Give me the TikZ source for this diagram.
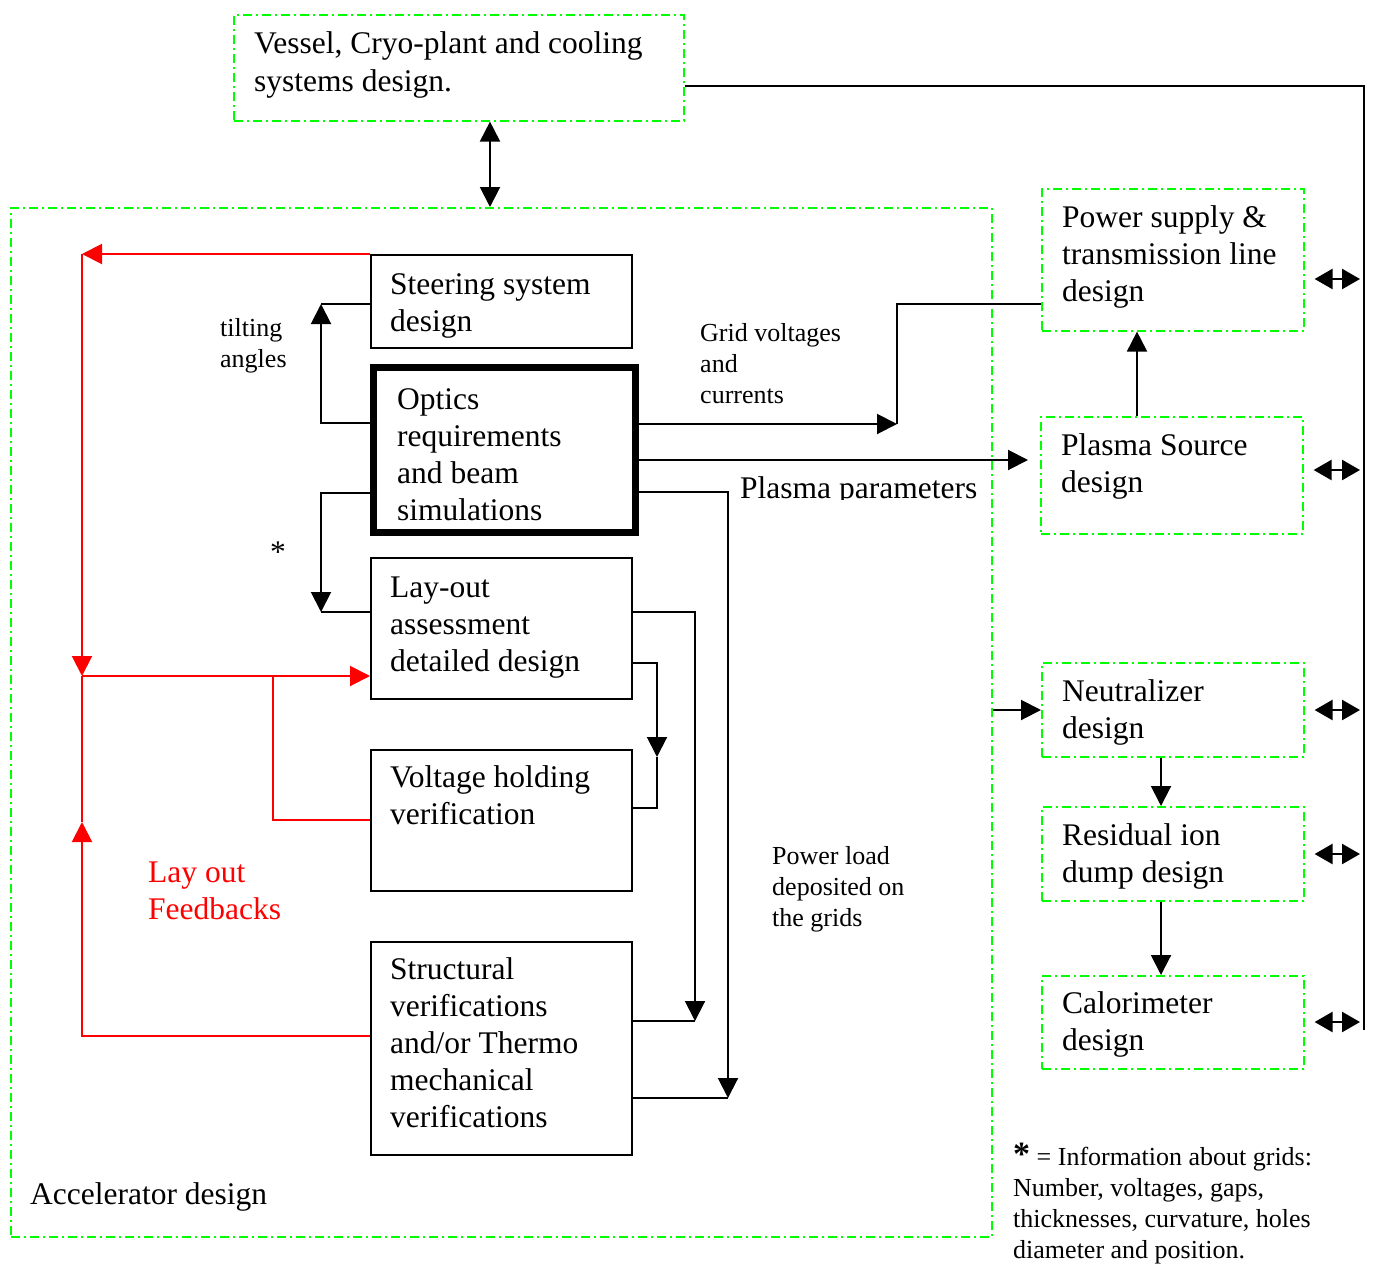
\documentclass[tikz,border=0pt]{standalone}
\usepackage{fontspec}
\setmainfont{Liberation Serif}
\usetikzlibrary{arrows.meta,calc}

\begin{document}
\begin{tikzpicture}[
		x=1pt,y=-1pt,
		>={Triangle[length=20pt,width=20pt]},
		gbox/.style={
			draw=green,
			line width=1.6pt,
			dash pattern=on 9pt off 4pt on 2pt off 4pt,
			anchor=north west,
			inner sep=0pt
		},
		bbox/.style={
			draw=black,
			line width=2pt,
			anchor=north west,
			inner sep=0pt
		},
		bigtext/.style={
			font=\fontsize{31.5}{37}\selectfont,
			align=left,
			anchor=base west,
			inner sep=0pt
		},
		smalltext/.style={
			font=\fontsize{26}{31}\selectfont,
			align=left,
			anchor=base west,
			inner sep=0pt
		},
		wire/.style={draw=black,line width=2pt},
		link/.style={wire,->},
		dlink/.style={wire,<->},
		shortlink/.style={
			draw=black,
			line width=2.5pt,
			{Triangle[length=18pt,width=20pt]}-{Triangle[length=18pt,width=20pt]}
		},
		fb/.style={draw=red,line width=2pt},
		fblink/.style={fb,->}
	]
		\useasboundingbox (0,0) rectangle (1375,1263);

		% boxes
		\node[gbox,minimum width=450pt,minimum height=106pt] (vessel) at (233,14) {};
		\node[gbox,minimum width=981pt,minimum height=1029pt] (accel) at (10,207) {};
		\node[bbox,minimum width=261pt,minimum height=93pt] (steer) at (370,254) {};
		\node[bbox,line width=7pt,minimum width=262pt,minimum height=165pt] (optics) at (370,364) {};
		\node[bbox,minimum width=261pt,minimum height=141pt] (layout) at (370,557) {};
		\node[bbox,minimum width=261pt,minimum height=141pt] (volt) at (370,749) {};
		\node[bbox,minimum width=261pt,minimum height=213pt] (struct) at (370,941) {};
		\node[gbox,minimum width=262pt,minimum height=142pt] (power) at (1041,188) {};
		\node[gbox,minimum width=262pt,minimum height=117pt] (plasma) at (1040,416) {};
		\node[gbox,minimum width=262pt,minimum height=94pt] (neutr) at (1041,662) {};
		\node[gbox,minimum width=262pt,minimum height=94pt] (resid) at (1041,806) {};
		\node[gbox,minimum width=262pt,minimum height=93pt] (calor) at (1041,975) {};

		% box texts (base = last line)
		\node[bigtext] at ($(vessel.north west)+(21,77)$) {Vessel, Cryo-plant and cooling\\systems design.};
		\node[bigtext] at ($(steer.north west)+(20,77)$) {Steering system\\design};
		\node[bigtext] at ($(optics.north west)+(27,156)$) {Optics\\requirements\\and beam\\simulations};
		\node[bigtext] at ($(layout.north west)+(20,114)$) {Lay-out\\assessment\\detailed design};
		\node[bigtext] at ($(volt.north west)+(20,75)$) {Voltage holding\\verification};
		\node[bigtext] at ($(struct.north west)+(20,186)$) {Structural\\verifications\\and/or Thermo\\mechanical\\verifications};
		\node[bigtext] at ($(power.north west)+(21,113)$) {Power supply \&\\transmission line\\design};
		\node[bigtext] at ($(plasma.north west)+(21,76)$) {Plasma Source\\design};
		\node[bigtext] at ($(neutr.north west)+(21,76)$) {Neutralizer\\design};
		\node[bigtext] at ($(resid.north west)+(21,76)$) {Residual ion\\dump design};
		\node[bigtext] at ($(calor.north west)+(21,75)$) {Calorimeter\\design};
		\node[bigtext] at ($(accel.south west)+(20,-33)$) {Accelerator design};

		% bend points
		\coordinate (tilt) at (321,304);
		\coordinate (grid) at (321,612);
		\coordinate (gv) at (897,424);
		\coordinate (pl) at (728,1098);
		\coordinate (ld) at (695,1021);
		\coordinate (vh) at (657,757);
		\coordinate (bustop) at (1364,86);
		\coordinate (busend) at (1364,1030);
		\coordinate (fbtop) at (82,254);
		\coordinate (fbmid) at (82,676);
		\coordinate (fbjoin) at (273,676);
		\coordinate (fbup) at (82,822);

		% black connectors
		\draw[dlink] (vessel.south -| 490,0) -- (accel.north -| 490,0);
		\draw[wire] (vessel.east |- bustop) -- (bustop) -- (busend);
		\foreach \b/\y in {power/279,plasma/470,neutr/710,resid/854,calor/1022}
			\draw[shortlink,shorten <=10pt,shorten >=4pt] (\b.east |- 0,\y) -- (bustop |- 0,\y);

		\draw[link] (optics.west |- 0,423) -| (tilt);
		\draw[wire] (tilt) -- (steer.west |- tilt);
		\draw[link] (optics.west |- 0,493) -| (grid);
		\draw[wire] (grid) -- (layout.west |- grid);

		\draw[link] (optics.east |- gv) -- (gv);
		\draw[wire] (gv) |- (power.west |- 0,304);
		\draw[link,shorten >=12pt] (optics.east |- 0,460) -- (plasma.west |- 0,460);
		\draw[link] (optics.east |- 0,492) -| (pl);
		\draw[wire] (pl) -- (struct.east |- pl);
		\draw[link] (layout.east |- 0,612) -| (ld);
		\draw[wire] (ld) -- (struct.east |- ld);
		\draw[link] (layout.east |- 0,663) -| (vh);
		\draw[wire] (vh) |- (volt.east |- 0,808);

		\draw[link] (1137,0 |- plasma.north) -- (1137,0 |- power.south);
		\draw[link] (accel.east |- 0,710) -- (neutr.west |- 0,710);
		\draw[link] (1161,0 |- neutr.south) -- (1161,0 |- resid.north);
		\draw[link] (1161,0 |- resid.south) -- (1161,0 |- calor.north);

		% red feedbacks
		\draw[fblink] (steer.north west) -- (fbtop);
		\draw[fblink] (fbtop) -- (fbmid);
		\draw[fblink] (fbmid) -- (layout.west |- fbmid);
		\draw[fb] (volt.west |- 0,820) -| (fbjoin);
		\draw[fblink] (struct.west |- 0,1036) -| (fbup);
		\draw[fb] (fbup) -- (fbmid);

		% labels
		\node[smalltext] at (220,367) {tilting\\angles};
		\node[bigtext] at (270,562) {*};
		\node[smalltext] at (700,403) {Grid voltages\\and\\currents};
		\begin{scope}
			\clip (735,455) rectangle (985,499);
			\node[bigtext] at (740,498) {Plasma parameters};
		\end{scope}
		\node[smalltext] at (772,926) {Power load\\deposited on\\the grids};
		\node[bigtext,text=red] at (148,919) {Lay out\\Feedbacks};
		\node[smalltext] at (1013,1258) {{\bfseries\fontsize{34}{34}\selectfont *} = Information about grids:\\Number, voltages, gaps,\\thicknesses, curvature, holes\\diameter and position.};
	\end{tikzpicture}
\end{document}
